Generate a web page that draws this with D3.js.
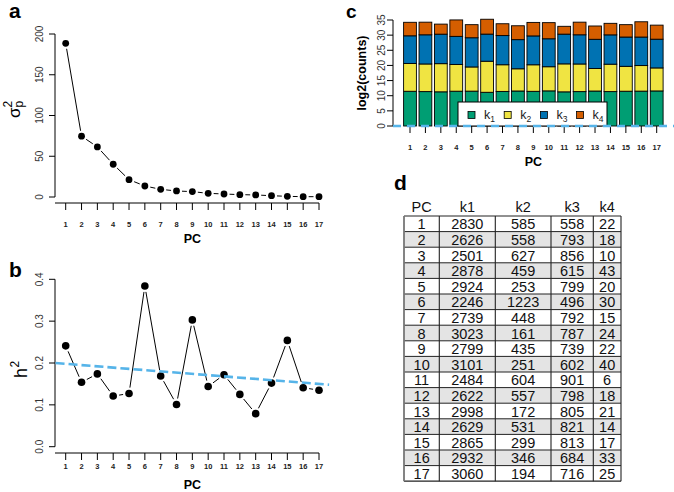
<!DOCTYPE html>
<meta charset="utf-8">
<style>
 body { margin: 0; background: #fff; }
 svg { font-family: "Liberation Sans", Arial, sans-serif; }
 .tick-x { font-size: 7.5px; font-weight: bold; text-anchor: middle; fill: #222; }
 .tick-y { font-size: 10px; text-anchor: middle; fill: #333; }
 .title { font-size: 12.5px; font-weight: bold; text-anchor: middle; }
 .panel { font-size: 21px; font-weight: bold; }
 .cell { font-size: 14.5px; text-anchor: middle; fill: #111; }
</style>
<svg width="674" height="492"></svg>
<script src="https://cdn.jsdelivr.net/npm/d3@7"></script>
<script>
var pcs = d3.range(1, 18);
var sigma2 = [188.5, 74.6, 61.5, 40.2, 21.3, 13.5, 9.4, 7.4, 6.6, 4.5, 3.7, 2.9, 2.5, 1.6, 0.8, 0.4, 0.4];
var h2 = [0.241, 0.154, 0.174, 0.121, 0.127, 0.384, 0.169, 0.101, 0.303, 0.144, 0.172, 0.125, 0.079, 0.152, 0.254, 0.141, 0.135];
var trend = { intercept: 0.201, slope: -0.003 };
var k1 = [2830, 2626, 2501, 2878, 2924, 2246, 2739, 3023, 2799, 3101, 2484, 2622, 2998, 2629, 2865, 2932, 3060];
var k2 = [585, 558, 627, 459, 253, 1223, 448, 161, 435, 251, 604, 557, 172, 531, 299, 346, 194];
var k3 = [558, 793, 856, 615, 799, 496, 792, 787, 739, 602, 901, 798, 805, 821, 813, 684, 716];
var k4 = [22, 18, 10, 43, 20, 30, 15, 24, 22, 40, 6, 18, 21, 14, 17, 33, 25];
var keys = ["k1", "k2", "k3", "k4"];
var colors = ["#009E73", "#F0E442", "#0072B2", "#D55E00"];
var ticksA = [0, 50, 100, 150, 200];
var ticksB = [0, 0.1, 0.2, 0.3, 0.4];
var ticksC = [0, 5, 10, 15, 20, 25, 30, 35];

var svg = d3.select("svg");
var blue = "#56B4E9";

var x = d3.scaleLinear().domain([1, 17]).range([65.7, 319]);

// R type="b" style: segments stop short of the points
function gapLines(g, pts, gap) {
  for (var i = 0; i < pts.length - 1; i++) {
    var a = pts[i], b = pts[i + 1];
    var dx = b[0] - a[0], dy = b[1] - a[1], len = Math.sqrt(dx * dx + dy * dy);
    if (len <= 2 * gap) continue;
    var ux = dx / len, uy = dy / len;
    g.append("line")
      .attr("x1", a[0] + ux * gap).attr("y1", a[1] + uy * gap)
      .attr("x2", b[0] - ux * gap).attr("y2", b[1] - uy * gap)
      .attr("stroke", "#000").attr("stroke-width", 1);
  }
}

function lineAxes(g, y, yTicks, fmt, axisX, axisY, tickLabY, pcY) {
  g.append("line").attr("x1", axisX).attr("x2", axisX)
    .attr("y1", y(yTicks[0])).attr("y2", y(yTicks[yTicks.length - 1])).attr("stroke", "#000");
  yTicks.forEach(function(t) {
    g.append("line").attr("x1", axisX - 6).attr("x2", axisX).attr("y1", y(t)).attr("y2", y(t)).attr("stroke", "#000");
    g.append("text").attr("class", "tick-y")
      .attr("transform", "translate(" + (axisX - 16) + "," + y(t) + ") rotate(-90)")
      .attr("dy", "0.35em").text(fmt(t));
  });
  g.append("line").attr("x1", axisX).attr("x2", x(17)).attr("y1", axisY).attr("y2", axisY).attr("stroke", "#000");
  pcs.forEach(function(p) {
    g.append("line").attr("x1", x(p)).attr("x2", x(p)).attr("y1", axisY).attr("y2", axisY + 7).attr("stroke", "#000");
    g.append("text").attr("class", "tick-x").attr("x", x(p)).attr("y", tickLabY).text(p);
  });
  g.append("text").attr("class", "title").attr("x", (x(1) + x(17)) / 2).attr("y", pcY).text("PC");
}

// ---- panel a
var ga = svg.append("g");
var ya = d3.scaleLinear().domain([0, 200]).range([197, 34]);
lineAxes(ga, ya, ticksA, d3.format("d"), 55, 203, 227, 243);
var ptsA = sigma2.map(function(v, i) { return [x(pcs[i]), ya(v)]; });
gapLines(ga, ptsA, 5.5);
ga.selectAll("circle").data(ptsA).join("circle")
  .attr("cx", function(d) { return d[0]; }).attr("cy", function(d) { return d[1]; })
  .attr("r", 3.4).attr("fill", "#000");
svg.append("text").attr("class", "panel").attr("x", 9).attr("y", 18).text("a");
var la = svg.append("g").attr("transform", "translate(20,118) rotate(-90)");
la.append("text").attr("font-size", 17).attr("x", 0).attr("y", 0).text("σ");
la.append("text").attr("font-size", 12).attr("x", 10.5).attr("y", -8).text("2");
la.append("text").attr("font-size", 12).attr("x", 10.5).attr("y", 3).text("p");

// ---- panel b
var gb = svg.append("g");
var yb = d3.scaleLinear().domain([0, 0.4]).range([446.7, 279.3]);
lineAxes(gb, yb, ticksB, d3.format(".1f"), 55, 453, 469, 489);
var ptsB = h2.map(function(v, i) { return [x(pcs[i]), yb(v)]; });
gapLines(gb, ptsB, 6);
gb.selectAll("circle").data(ptsB).join("circle")
  .attr("cx", function(d) { return d[0]; }).attr("cy", function(d) { return d[1]; })
  .attr("r", 3.8).attr("fill", "#000");
gb.append("line")
  .attr("x1", x(0.36)).attr("y1", yb(trend.intercept + trend.slope * 0.36))
  .attr("x2", x(17.64)).attr("y2", yb(trend.intercept + trend.slope * 17.64))
  .attr("stroke", blue).attr("stroke-width", 2.6).attr("stroke-dasharray", "9,4");
svg.append("text").attr("class", "panel").attr("x", 9).attr("y", 277).text("b");
var lb = svg.append("g").attr("transform", "translate(27,378) rotate(-90)");
lb.append("text").attr("font-size", 18).attr("x", 0).attr("y", 0).text("h");
lb.append("text").attr("font-size", 12).attr("x", 10.5).attr("y", -8).text("2");

// ---- panel c
var gc = svg.append("g");
var xc = d3.scaleLinear().domain([1, 17]).range([410, 656.7]);
var yc = d3.scaleLinear().domain([0, 35]).range([126, 20]);
var bw = 12.8;
var rows = pcs.map(function(p, i) {
  return { pc: p, k1: Math.log2(k1[i]), k2: Math.log2(k2[i]), k3: Math.log2(k3[i]), k4: Math.log2(k4[i]) };
});
var stack = d3.stack().keys(keys)(rows);
var top = stack[3];
gc.selectAll("rect.shadow").data(top).join("rect").attr("class", "shadow")
  .attr("x", function(d) { return xc(d.data.pc) - bw / 2 + 2.5; })
  .attr("y", function(d) { return yc(d[1]) - 1.5; })
  .attr("width", bw).attr("height", function(d) { return yc(0) - yc(d[1]); })
  .attr("fill", "#b5b5b5");
stack.forEach(function(s, k) {
  gc.append("g").selectAll("rect").data(s).join("rect")
    .attr("x", function(d) { return xc(d.data.pc) - bw / 2; })
    .attr("y", function(d) { return yc(d[1]); })
    .attr("width", bw).attr("height", function(d) { return yc(d[0]) - yc(d[1]); })
    .attr("fill", colors[k]).attr("stroke", "#000").attr("stroke-width", 0.9);
});
gc.append("line").attr("x1", 393).attr("x2", 393).attr("y1", yc(0)).attr("y2", yc(35)).attr("stroke", "#000");
ticksC.forEach(function(t) {
  gc.append("line").attr("x1", 387).attr("x2", 393).attr("y1", yc(t)).attr("y2", yc(t)).attr("stroke", "#000");
  gc.append("text").attr("class", "tick-y")
    .attr("transform", "translate(381," + yc(t) + ") rotate(-90)").attr("dy", "0.35em").text(t);
});
pcs.forEach(function(p) {
  gc.append("line").attr("x1", xc(p)).attr("x2", xc(p)).attr("y1", yc(0)).attr("y2", yc(0) + 7).attr("stroke", "#000");
  gc.append("text").attr("class", "tick-x").attr("x", xc(p)).attr("y", 150).text(p);
});
gc.append("text").attr("class", "title").attr("x", (xc(1) + xc(17)) / 2).attr("y", 166).text("PC");
gc.append("text").attr("class", "title")
  .attr("transform", "translate(366," + yc(17.5) + ") rotate(-90)").text("log2(counts)");
// legend
var lg = gc.append("g");
lg.append("rect").attr("x", 458).attr("y", 102).attr("width", 149).attr("height", 24)
  .attr("fill", "#fff").attr("stroke", "#000");
keys.forEach(function(k, i) {
  var lx = 468 + i * 36.2;
  lg.append("rect").attr("x", lx).attr("y", 111.5).attr("width", 7).attr("height", 7)
    .attr("fill", colors[i]).attr("stroke", "#000").attr("stroke-width", 0.8);
  var t = lg.append("text").attr("x", lx + 16).attr("y", 119).attr("font-size", 12.5).attr("fill", "#222");
  t.append("tspan").text("k");
  t.append("tspan").attr("font-size", 8.5).attr("dy", 2.5).text(k.slice(1));
});
gc.append("line").attr("x1", 393).attr("x2", 674).attr("y1", yc(0)).attr("y2", yc(0))
  .attr("stroke", blue).attr("stroke-width", 2.6).attr("stroke-dasharray", "8,6");
svg.append("text").attr("class", "panel").style("font-size", "19px").attr("x", 346).attr("y", 18).text("c");

// ---- panel d table
svg.append("text").attr("class", "panel").attr("x", 394).attr("y", 190).text("d");
var cols = [404, 439.3, 495.3, 551, 593.3, 621];
var header = ["PC", "k1", "k2", "k3", "k4"];
var rowH = 15.6, t0 = 216;
var gd = svg.append("g");
header.forEach(function(h, j) {
  gd.append("text").attr("class", "cell").attr("font-size", 13.5)
    .attr("x", (cols[j] + cols[j + 1]) / 2).attr("y", 212).text(h);
});
pcs.forEach(function(p, i) {
  var y0 = t0 + i * rowH;
  gd.append("rect").attr("x", cols[0]).attr("y", y0).attr("width", cols[5] - cols[0]).attr("height", rowH)
    .attr("fill", i % 2 ? "#e4e4e4" : "#fff");
  [p, k1[i], k2[i], k3[i], k4[i]].forEach(function(v, j) {
    gd.append("text").attr("class", "cell").attr("x", (cols[j] + cols[j + 1]) / 2).attr("y", y0 + 13.3).text(v);
  });
  gd.append("line").attr("x1", cols[0]).attr("x2", cols[5]).attr("y1", y0).attr("y2", y0).attr("stroke", "#222");
});
gd.append("line").attr("x1", cols[0]).attr("x2", cols[5]).attr("y1", t0 + 17 * rowH).attr("y2", t0 + 17 * rowH)
  .attr("stroke", "#222").attr("stroke-width", 1.3);
cols.forEach(function(c, j) {
  gd.append("line").attr("x1", c).attr("x2", c).attr("y1", t0).attr("y2", t0 + 17 * rowH)
    .attr("stroke", j === 0 ? "#777" : "#222").attr("stroke-width", j === 0 ? 1.8 : 1.1);
});
</script>
